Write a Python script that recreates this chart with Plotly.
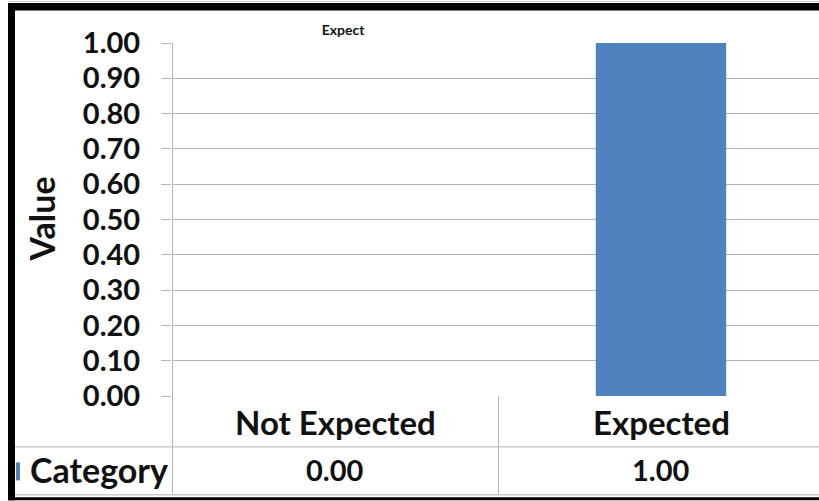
import plotly.graph_objects as go

# Chart data
categories = ["Not Expected", "Expected"]
values = [0.00, 1.00]
series_name = "Category"
chart_title = "Expect"
y_title = "Value"
y_ticks = [0.0, 0.1, 0.2, 0.3, 0.4, 0.5, 0.6, 0.7, 0.8, 0.9, 1.0]

W, H = 819, 501
ML, MT, MB = 172, 43, 104.5
PW, PH = W - ML, H - MT - MB

FONT = "Lato"
BAR = "#4F81BD"
GRID = "#b4b4b4"


def px(xp):
    return (xp - ML) / PW


def py(yp):
    return (H - MB - yp) / PH


fig = go.Figure(
    go.Bar(
        x=categories,
        y=values,
        name=series_name,
        marker=dict(color=BAR, line=dict(width=0)),
        showlegend=False,
    )
)

# Category labels under the plot and the data-table row
for cat, v in zip(categories, values):
    fig.add_annotation(x=cat, xref="x", y=py(423), yref="paper", text=cat,
                       showarrow=False, xanchor="center", yanchor="middle",
                       font=dict(family=FONT, size=33, color="#111", weight="bold"))
    fig.add_annotation(x=cat, xref="x", y=py(470), yref="paper", text=f"{v:.2f}",
                       showarrow=False, xanchor="center", yanchor="middle",
                       font=dict(family=FONT, size=29, color="#111", weight="bold"))

fig.add_annotation(x=px(99), xref="paper", y=py(470), yref="paper", text=series_name,
                   showarrow=False, xanchor="center", yanchor="middle",
                   font=dict(family=FONT, size=34, color="#111", weight="bold"))

fig.add_annotation(x=px(41), xref="paper", y=0.5, yref="paper", text=y_title,
                   showarrow=False, textangle=-90, xanchor="center", yanchor="middle",
                   font=dict(family=FONT, size=34, color="#111", weight="bold"))

shapes = []


def line(x0, y0, x1, y1, color=GRID, width=1):
    shapes.append(dict(type="line", xref="paper", yref="paper",
                       x0=px(x0), y0=py(y0), x1=px(x1), y1=py(y1),
                       line=dict(color=color, width=width), layer="above"))


def rect(x0, y0, x1, y1, color):
    shapes.append(dict(type="rect", xref="paper", yref="paper",
                       x0=px(x0), y0=py(y0), x1=px(x1), y1=py(y1),
                       fillcolor=color, line=dict(width=0), layer="above"))


# Data table grid
line(172.5, 43, 172.5, 495.5)
line(498.5, 396.5, 498.5, 495.5)
line(15, 447.5, 819, 447.5)
line(15, 495.5, 819, 495.5)

# Legend key of the table row
rect(16, 463, 20, 481, BAR)

# Outer frame
line(8, 1.5, 819, 1.5, color="#c8c8c8")
rect(8, 3, 819, 10.5, "#000000")
rect(8, 3, 15, 501, "#000000")
rect(8, 498, 819, 501, "#000000")

fig.update_layout(
    width=W, height=H,
    margin=dict(l=ML, r=0, t=MT, b=MB, pad=0),
    paper_bgcolor="white", plot_bgcolor="white",
    bargap=0.6,
    title=dict(text=chart_title, x=343 / W, xref="container", xanchor="center",
               y=1 - 30 / H, yref="container", yanchor="middle",
               font=dict(family=FONT, size=14, color="#111", weight="bold")),
    xaxis=dict(range=[-0.5, 1.5 - 5 / 326], showticklabels=False, showgrid=False,
               zeroline=False, showline=False, fixedrange=True),
    yaxis=dict(range=[0, 1], tickvals=y_ticks, tickformat=".2f",
               ticks="outside", ticklen=10, tickcolor=GRID, tickwidth=1,
               showgrid=True, gridcolor=GRID, gridwidth=1,
               zeroline=False, showline=False, ticklabelstandoff=15,
               tickfont=dict(family=FONT, size=29, color="#111", weight="bold")),
    shapes=shapes,
)

fig.write_html("out.html")
